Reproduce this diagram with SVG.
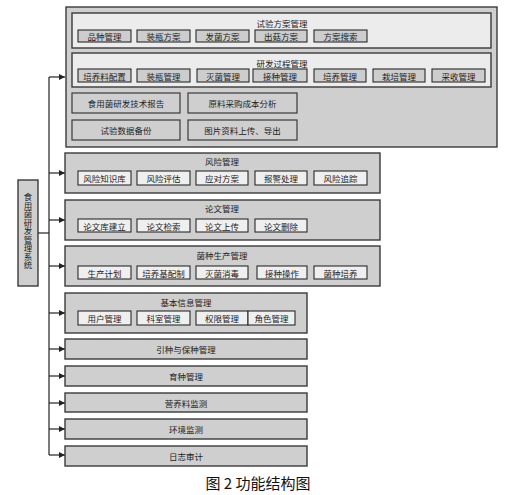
<svg xmlns="http://www.w3.org/2000/svg" width="509" height="495" viewBox="0 0 509 495">
<defs>
<style>
text{font-family:"Noto Sans CJK SC","Liberation Serif",sans-serif;font-size:8.5px;fill:#222;text-anchor:middle;dominant-baseline:central}
.outer{fill:#cfcfcf;stroke:#3a3a3a;stroke-width:1.4}
.inner{fill:#ececec;stroke:#3a3a3a;stroke-width:1.4}
.btnd{fill:#cdcdcd;stroke:#2a2a2a;stroke-width:1.1}
.btnl{fill:#efefef;stroke:#2a2a2a;stroke-width:1.1}
.btng{fill:#cfcfcf;stroke:#3a3a3a;stroke-width:1.2}
.conn{stroke:#222;stroke-width:1.2;fill:none}
</style>
<marker id="arr" viewBox="0 0 10 10" refX="10" refY="5" markerWidth="6" markerHeight="6" markerUnits="userSpaceOnUse" orient="auto">
<path d="M0,0 L10,5 L0,10 z" fill="#222"/>
</marker>
</defs>
<rect width="509" height="495" fill="#fff"/>

<g id="root">
<rect x="18" y="180" width="20" height="106" class="outer"/>
<text x="28" y="193" style="writing-mode:vertical-rl;text-anchor:start;dominant-baseline:central">食用菌研发管理系统</text>
</g>

<g id="connectors">
<path class="conn" d="M38,233 H49"/>
<path class="conn" d="M49,77 V455"/>
<path class="conn" d="M49,77 H65" marker-end="url(#arr)"/>
<path class="conn" d="M49,173 H65" marker-end="url(#arr)"/>
<path class="conn" d="M49,220 H65" marker-end="url(#arr)"/>
<path class="conn" d="M49,266 H65" marker-end="url(#arr)"/>
<path class="conn" d="M49,313 H65" marker-end="url(#arr)"/>
<path class="conn" d="M49,349 H65" marker-end="url(#arr)"/>
<path class="conn" d="M49,376 H65" marker-end="url(#arr)"/>
<path class="conn" d="M49,403 H65" marker-end="url(#arr)"/>
<path class="conn" d="M49,429 H65" marker-end="url(#arr)"/>
<path class="conn" d="M49,455 H65" marker-end="url(#arr)"/>
</g>

<g id="rd-module">
<rect x="66" y="7" width="431" height="140" class="outer"/>
<g id="trial-plan">
<rect x="72" y="13" width="419" height="35" class="inner"/>
<text x="282" y="23">试验方案管理</text>
<rect x="78" y="30" width="53" height="12" class="btnd"/><text x="104.5" y="36">品种管理</text>
<rect x="137" y="30" width="53" height="12" class="btnd"/><text x="163.5" y="36">装瓶方案</text>
<rect x="196" y="30" width="53" height="12" class="btnd"/><text x="222.5" y="36">发菌方案</text>
<rect x="255" y="30" width="52" height="12" class="btnd"/><text x="281" y="36">出菇方案</text>
<rect x="314" y="30" width="53" height="12" class="btnd"/><text x="340.5" y="36">方案搜索</text>
</g>
<g id="rd-process">
<rect x="72" y="53" width="419" height="34" class="inner"/>
<text x="282" y="63">研发过程管理</text>
<rect x="78" y="69" width="53" height="13" class="btnd"/><text x="104.5" y="75.5">培养料配置</text>
<rect x="137" y="69" width="53" height="13" class="btnd"/><text x="163.5" y="75.5">装瓶管理</text>
<rect x="197" y="69" width="52" height="13" class="btnd"/><text x="223" y="75.5">灭菌管理</text>
<rect x="253" y="69" width="54" height="13" class="btnd"/><text x="280" y="75.5">接种管理</text>
<rect x="314" y="69" width="52" height="13" class="btnd"/><text x="340" y="75.5">培养管理</text>
<rect x="373" y="69" width="52" height="13" class="btnd"/><text x="399" y="75.5">栽培管理</text>
<rect x="432" y="69" width="53" height="13" class="btnd"/><text x="458.5" y="75.5">采收管理</text>
</g>
<g id="tech-report"><rect x="72" y="93" width="108" height="20" class="btng"/><text x="126" y="103">食用菌研发技术报告</text></g>
<g id="cost-analysis"><rect x="188" y="93" width="109" height="20" class="btng"/><text x="242.5" y="103">原料采购成本分析</text></g>
<g id="data-backup"><rect x="72" y="120" width="108" height="20" class="btng"/><text x="126" y="130">试验数据备份</text></g>
<g id="image-upload"><rect x="188" y="120" width="109" height="20" class="btng"/><text x="242.5" y="130">图片资料上传、导出</text></g>
</g>

<g id="risk">
<rect x="65" y="153" width="315" height="40" class="outer"/>
<text x="222" y="161">风险管理</text>
<rect x="78" y="171" width="53" height="14" class="btnl"/><text x="104.5" y="178">风险知识库</text>
<rect x="137" y="171" width="53" height="14" class="btnl"/><text x="163.5" y="178">风险评估</text>
<rect x="196" y="171" width="52" height="14" class="btnl"/><text x="222" y="178">应对方案</text>
<rect x="255" y="171" width="52" height="14" class="btnl"/><text x="281" y="178">报警处理</text>
<rect x="314" y="171" width="53" height="14" class="btnl"/><text x="340.5" y="178">风险追踪</text>
</g>

<g id="paper">
<rect x="65" y="200" width="315" height="40" class="outer"/>
<text x="222" y="208">论文管理</text>
<rect x="78" y="219" width="53" height="13" class="btnl"/><text x="104.5" y="225.5">论文库建立</text>
<rect x="137" y="219" width="53" height="13" class="btnl"/><text x="163.5" y="225.5">论文检索</text>
<rect x="196" y="219" width="52" height="13" class="btnl"/><text x="222" y="225.5">论文上传</text>
<rect x="255" y="219" width="52" height="13" class="btnl"/><text x="281" y="225.5">论文删除</text>
</g>

<g id="strain-production">
<rect x="65" y="246" width="315" height="40" class="outer"/>
<text x="222" y="255">菌种生产管理</text>
<rect x="78" y="266" width="53" height="13" class="btnl"/><text x="104.5" y="272.5">生产计划</text>
<rect x="137" y="266" width="53" height="13" class="btnl"/><text x="163.5" y="272.5">培养基配制</text>
<rect x="196" y="266" width="52" height="13" class="btnl"/><text x="222" y="272.5">灭菌消毒</text>
<rect x="257" y="266" width="50" height="13" class="btnl"/><text x="282" y="272.5">接种操作</text>
<rect x="314" y="266" width="53" height="13" class="btnl"/><text x="340.5" y="272.5">菌种培养</text>
</g>

<g id="basic-info">
<rect x="65" y="293" width="242" height="40" class="outer"/>
<text x="186" y="302">基本信息管理</text>
<rect x="78" y="311" width="53" height="14" class="btnl"/><text x="104.5" y="318">用户管理</text>
<rect x="137" y="311" width="53" height="14" class="btnl"/><text x="163.5" y="318">科室管理</text>
<rect x="196" y="311" width="52" height="14" class="btnl"/><text x="222" y="318">权限管理</text>
<rect x="248" y="311" width="47" height="14" class="btnl"/><text x="271.5" y="318">角色管理</text>
</g>

<g id="introduction"><rect x="65" y="339" width="242" height="20" class="outer"/><text x="186" y="349">引种与保种管理</text></g>
<g id="breeding"><rect x="65" y="366" width="242" height="20" class="outer"/><text x="186" y="376">育种管理</text></g>
<g id="nutrient"><rect x="65" y="393" width="242" height="19" class="outer"/><text x="186" y="402.5">营养料监测</text></g>
<g id="environment"><rect x="65" y="419" width="242" height="20" class="outer"/><text x="186" y="429">环境监测</text></g>
<g id="log-audit"><rect x="65" y="446" width="242" height="20" class="outer"/><text x="186" y="456">日志审计</text></g>

<text x="258" y="482" style="font-size:15px;fill:#111">图 2 功能结构图</text>
</svg>
